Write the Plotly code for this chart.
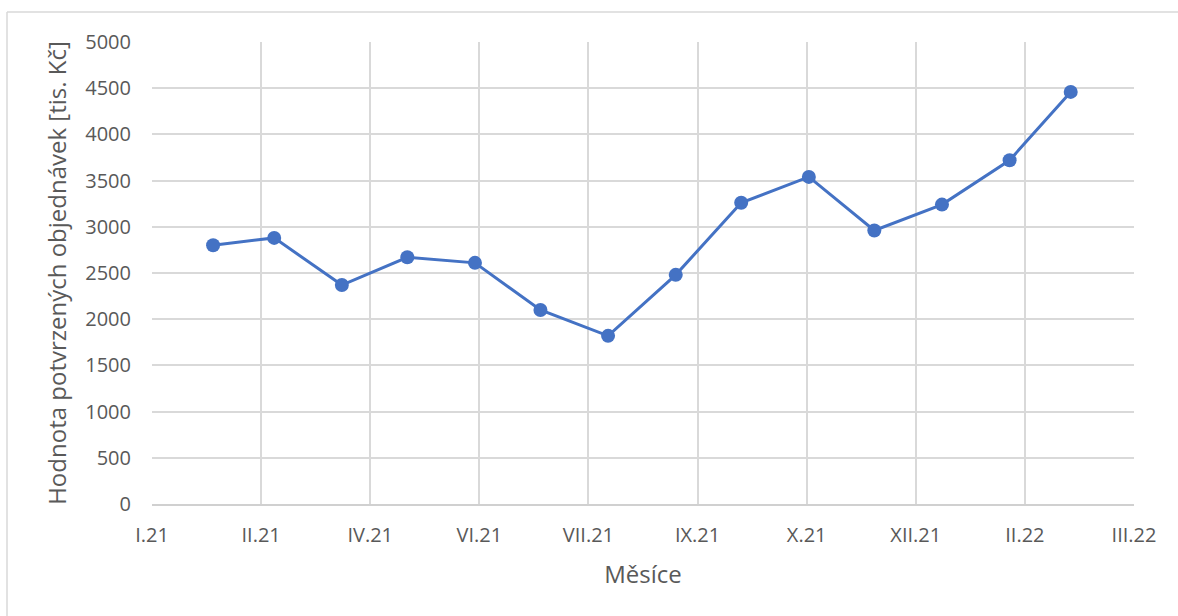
import plotly.graph_objects as go
import pandas as pd

# Data: month-end dates and values (tis. Kč)
months = pd.date_range("2021-01-31", "2022-02-28", freq="ME")
values = [2800, 2880, 2370, 2670, 2610, 2100, 1820, 2480, 3260, 3540, 2960, 3240, 3720, 4460]

# x-axis ticks: every 50 days starting 2021-01-03
tick_dates = pd.date_range("2021-01-03", periods=10, freq="50D")
tick_labels = ["I.21", "II.21", "IV.21", "VI.21", "VII.21", "IX.21", "X.21", "XII.21", "II.22", "III.22"]

y_ticks = [0, 500, 1000, 1500, 2000, 2500, 3000, 3500, 4000, 4500, 5000]

FONT = "Open Sans"
TXT = "#595959"
GRID = "#D9D9D9"

fig = go.Figure()
fig.add_trace(go.Scatter(
    x=months, y=values, mode="lines+markers",
    line=dict(color="#4472C4", width=3),
    marker=dict(color="#4472C4", size=14),
    showlegend=False,
))

L, R, T, B = 152, 44, 42, 112
W, H = 1178, 616
pw, ph = W - L - R, H - T - B

def px(x):
    return (x - L) / pw

def py(y):
    return (H - B - y) / ph

fig.update_layout(
    width=W, height=H,
    margin=dict(l=L, r=R, t=T, b=B),
    paper_bgcolor="white", plot_bgcolor="white",
    font=dict(family=FONT, color=TXT, size=20),
    xaxis=dict(
        range=[tick_dates[0], tick_dates[-1]],
        tickmode="array", tickvals=tick_dates, ticktext=tick_labels,
        showgrid=True, gridcolor=GRID, gridwidth=1.5,
        showline=True, linecolor="#D0D0D0", linewidth=1.5,
        ticks="", ticklabelstandoff=12,
        tickfont=dict(size=20, color=TXT, family=FONT),
        title=dict(text="Měsíce", font=dict(size=24, color=TXT, family=FONT), standoff=19),
        zeroline=False, fixedrange=True,
    ),
    yaxis=dict(
        range=[0, 5000],
        tickmode="array", tickvals=y_ticks,
        showgrid=True, gridcolor=GRID, gridwidth=1.5,
        showline=False, zeroline=False,
        ticks="", ticklabelstandoff=20,
        tickfont=dict(size=20, color=TXT, family=FONT),
        title=dict(text="Hodnota potvrzených objednávek [tis. Kč]",
                   font=dict(size=24, color=TXT, family=FONT), standoff=11),
        fixedrange=True,
    ),
    shapes=[
        dict(type="line", xref="paper", yref="paper", x0=px(7), x1=px(1180), y0=py(12), y1=py(12),
             line=dict(color="#D9D9D9", width=1.5), layer="below"),
        dict(type="line", xref="paper", yref="paper", x0=px(7), x1=px(7), y0=py(12), y1=py(620),
             line=dict(color="#D9D9D9", width=1.5), layer="below"),
    ],
)

fig.write_html("out.html")
